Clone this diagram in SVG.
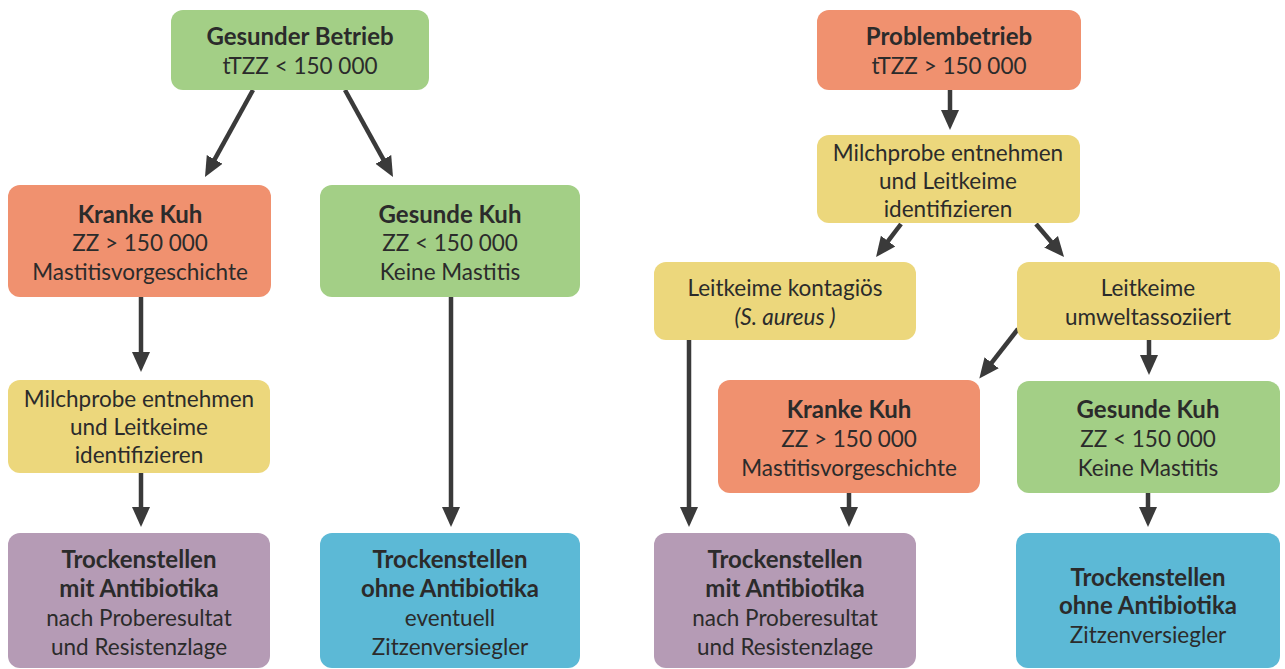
<svg xmlns="http://www.w3.org/2000/svg" width="1285" height="669" viewBox="0 0 1285 669">
<defs>
<style>
.box{stroke:none}
.g{fill:#a3cf86}.r{fill:#f0916f}.y{fill:#ecd77c}.p{fill:#b59bb5}.b{fill:#5cb9d6}
text{font-family:Lato,"Open Sans","DejaVu Sans",sans-serif;font-size:22.5px;fill:#2b2b2b;text-anchor:middle}
.bd{font-weight:bold;font-size:24px}
.it{font-style:italic}
.c line{stroke:#3a3a3a;stroke-width:4.5;marker-end:url(#ah)}
</style>
<marker id="ah" markerUnits="userSpaceOnUse" markerWidth="24" markerHeight="20" refX="2" refY="9" orient="auto" viewBox="0 0 24 18">
<path d="M0,0 L20,9 L0,18 z" fill="#3a3a3a"/>
</marker>
</defs>
<rect width="1285" height="669" fill="#ffffff"/>
<g class="c" id="connectors">
<line x1="253" y1="90" x2="213.7" y2="161.2"/>
<line x1="345" y1="90" x2="384.3" y2="161.2"/>
<line x1="141" y1="297" x2="141" y2="354"/>
<line x1="141" y1="473" x2="141" y2="509"/>
<line x1="451" y1="297" x2="451" y2="509"/>
<line x1="950" y1="90" x2="950" y2="112"/>
<line x1="901" y1="224" x2="886.9" y2="242.7"/>
<line x1="1036" y1="224" x2="1052.4" y2="243.3"/>
<line x1="689" y1="340" x2="689" y2="509"/>
<line x1="1018" y1="329" x2="990.4" y2="364.3"/>
<line x1="1149" y1="340" x2="1149" y2="357"/>
<line x1="849" y1="493" x2="849" y2="509"/>
<line x1="1148" y1="493" x2="1148" y2="509"/>
</g>
<g id="gesunder-betrieb">
<rect class="box g" x="171" y="10" width="258" height="80" rx="12"/>
<text x="300" y="45" class="bd">Gesunder Betrieb</text>
<text x="300" y="74">tTZZ &lt; 150 000</text>
</g>
<g id="kranke-kuh-l">
<rect class="box r" x="8" y="185" width="263" height="112" rx="12"/>
<text x="140" y="223" class="bd">Kranke Kuh</text>
<text x="140" y="251">ZZ &gt; 150 000</text>
<text x="140" y="280">Mastitisvorgeschichte</text>
</g>
<g id="gesunde-kuh-l">
<rect class="box g" x="320" y="185" width="260" height="112" rx="12"/>
<text x="450" y="223" class="bd">Gesunde Kuh</text>
<text x="450" y="251">ZZ &lt; 150 000</text>
<text x="450" y="280">Keine Mastitis</text>
</g>
<g id="milchprobe-l">
<rect class="box y" x="8" y="380" width="262" height="93" rx="12"/>
<text x="139" y="407">Milchprobe entnehmen</text>
<text x="139" y="435">und Leitkeime</text>
<text x="139" y="463">identifizieren</text>
</g>
<g id="trocken-mit-l">
<rect class="box p" x="8" y="533" width="262" height="135" rx="12"/>
<text x="139" y="568" class="bd">Trockenstellen</text>
<text x="139" y="597" class="bd">mit Antibiotika</text>
<text x="139" y="626">nach Proberesultat</text>
<text x="139" y="655">und Resistenzlage</text>
</g>
<g id="trocken-ohne-l">
<rect class="box b" x="320" y="533" width="260" height="135" rx="12"/>
<text x="450" y="568" class="bd">Trockenstellen</text>
<text x="450" y="597" class="bd">ohne Antibiotika</text>
<text x="450" y="626">eventuell</text>
<text x="450" y="655">Zitzenversiegler</text>
</g>
<g id="problembetrieb">
<rect class="box r" x="817" y="10" width="264" height="80" rx="12"/>
<text x="949" y="45" class="bd">Problembetrieb</text>
<text x="949" y="74">tTZZ &gt; 150 000</text>
</g>
<g id="milchprobe-r">
<rect class="box y" x="817" y="135" width="263" height="88" rx="12"/>
<text x="948" y="161">Milchprobe entnehmen</text>
<text x="948" y="189">und Leitkeime</text>
<text x="948" y="217">identifizieren</text>
</g>
<g id="kontagioes">
<rect class="box y" x="654" y="262" width="262" height="78" rx="12"/>
<text x="785" y="296">Leitkeime kontagiös</text>
<text x="785" y="325" class="it">(S. aureus )</text>
</g>
<g id="umwelt">
<rect class="box y" x="1017" y="262" width="263" height="78" rx="12"/>
<text x="1148" y="296">Leitkeime</text>
<text x="1148" y="325">umweltassoziiert</text>
</g>
<g id="kranke-kuh-r">
<rect class="box r" x="718" y="380" width="262" height="113" rx="12"/>
<text x="849" y="418" class="bd">Kranke Kuh</text>
<text x="849" y="447">ZZ &gt; 150 000</text>
<text x="849" y="476">Mastitisvorgeschichte</text>
</g>
<g id="gesunde-kuh-r">
<rect class="box g" x="1017" y="381" width="263" height="112" rx="12"/>
<text x="1148" y="418" class="bd">Gesunde Kuh</text>
<text x="1148" y="447">ZZ &lt; 150 000</text>
<text x="1148" y="476">Keine Mastitis</text>
</g>
<g id="trocken-mit-r">
<rect class="box p" x="654" y="533" width="262" height="135" rx="12"/>
<text x="785" y="568" class="bd">Trockenstellen</text>
<text x="785" y="597" class="bd">mit Antibiotika</text>
<text x="785" y="626">nach Proberesultat</text>
<text x="785" y="655">und Resistenzlage</text>
</g>
<g id="trocken-ohne-r">
<rect class="box b" x="1016" y="533" width="264" height="135" rx="12"/>
<text x="1148" y="586" class="bd">Trockenstellen</text>
<text x="1148" y="614" class="bd">ohne Antibiotika</text>
<text x="1148" y="643">Zitzenversiegler</text>
</g>
</svg>
